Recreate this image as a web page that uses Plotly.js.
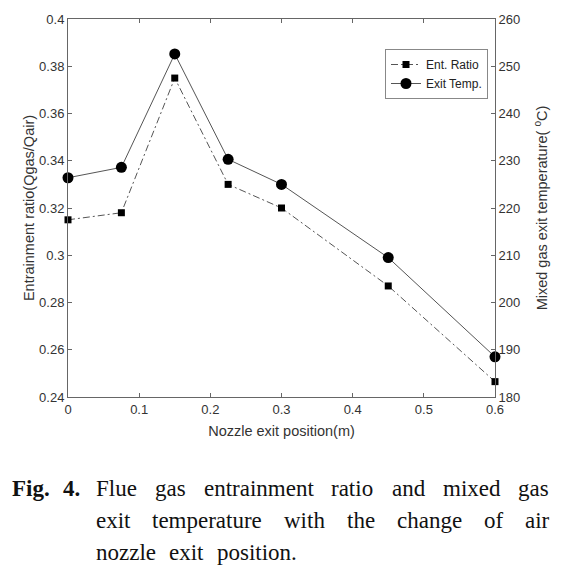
<!DOCTYPE html>
<html><head><meta charset="utf-8">
<script src="https://cdn.plot.ly/plotly-3.0.1.min.js"></script>
<style>html,body{margin:0;padding:0;background:#fff}#chart{width:567px;height:567px}</style>
</head><body><div id="chart"></div>
<script>
// ---- data ----
const positions = [0, 0.075, 0.15, 0.225, 0.3, 0.45, 0.6];
const entRatio = [0.315, 0.318, 0.375, 0.330, 0.320, 0.287, 0.2465];
const exitTemp = [226.4, 228.6, 252.6, 230.3, 225.0, 209.5, 188.5];
const xTickVals = [0, 0.1, 0.2, 0.3, 0.4, 0.5, 0.6];
const xTickText = ['0', '0.1', '0.2', '0.3', '0.4', '0.5', '0.6'];
const yTickVals = [0.24, 0.26, 0.28, 0.3, 0.32, 0.34, 0.36, 0.38, 0.4];
const yTickText = ['0.24', '0.26', '0.28', '0.3', '0.32', '0.34', '0.36', '0.38', '0.4'];
const y2TickVals = [180, 190, 200, 210, 220, 230, 240, 250, 260];
const y2TickText = ['180', '190', '200', '210', '220', '230', '240', '250', '260'];
const seriesNames = ['Ent. Ratio', 'Exit Temp.'];
const captionLabel = ['Fig.', '4.'];
const captionLines = [
  'Flue gas entrainment ratio and mixed gas',
  'exit temperature with the change of air',
  'nozzle exit position.'
];

// ---- layout helpers ----
const M = {l: 68, r: 72, t: 19, b: 170};
const W = 567, H = 567;
const PW = W - M.l - M.r, PH = H - M.t - M.b;
const px2x = p => (p - M.l) / PW;
const px2y = p => (H - M.b - p) / PH;

const capFont = "Liberation Serif, 'Times New Roman', serif";
const capSize = 23;
const cv = document.createElement('canvas').getContext('2d');
function measure(t, bold) {
  cv.font = (bold ? 'bold ' : '') + capSize + "px 'Liberation Serif'";
  return cv.measureText(t).width;
}

const annotations = [];
function addWord(t, px, py, bold) {
  annotations.push({
    text: bold ? '<b>' + t + '</b>' : t,
    xref: 'paper', yref: 'paper', x: px2x(px), y: px2y(py),
    xanchor: 'left', yanchor: 'middle', showarrow: false,
    borderpad: 0,
    font: {family: capFont, size: capSize, color: '#111'}
  });
}
const lineY = [488, 520, 552];
addWord(captionLabel[0], 11, lineY[0], true);
addWord(captionLabel[1], 62, lineY[0], true);
const leftX = 95, rightX = 548;
captionLines.forEach((ln, i) => {
  const words = ln.split(' ');
  const widths = words.map(w => measure(w));
  const total = widths.reduce((a, b) => a + b, 0);
  let gap;
  if (i < captionLines.length - 1) gap = (rightX - leftX - total) / (words.length - 1);
  else gap = 13;
  let x = leftX;
  words.forEach((w, k) => { addWord(w, x, lineY[i], false); x += widths[k] + gap; });
});

const axisFont = {family: 'Liberation Sans, Arial, sans-serif', size: 13, color: '#333'};
const titleFont = {family: 'Liberation Sans, Arial, sans-serif', size: 14.5, color: '#333'};

const traces = [
  {
    x: positions, y: entRatio, name: seriesNames[0], type: 'scatter', mode: 'lines+markers',
    line: {color: '#555', width: 1, dash: '7px,3px,2px,3px'},
    marker: {symbol: 'square', size: 7, color: '#000'},
    cliponaxis: false
  },
  {
    x: positions, y: exitTemp, name: seriesNames[1], type: 'scatter', mode: 'lines+markers',
    yaxis: 'y2',
    line: {color: '#555', width: 1},
    marker: {symbol: 'circle', size: 11, color: '#000'},
    cliponaxis: false
  }
];

const layout = {
  width: W, height: H,
  margin: M,
  paper_bgcolor: '#fff', plot_bgcolor: '#fff',
  showlegend: true,
  legend: {
    x: px2x(385), y: px2y(49), xanchor: 'left', yanchor: 'top',
    bordercolor: '#888', borderwidth: 1, bgcolor: '#fff',
    font: {family: 'Liberation Sans, Arial, sans-serif', size: 12, color: '#222'},
    tracegroupgap: 0, itemwidth: 30
  },
  xaxis: {
    range: [0, 0.6], tickvals: xTickVals, ticktext: xTickText,
    ticks: 'inside', ticklen: 4, tickcolor: '#666', showline: true, linecolor: '#666', linewidth: 1,
    mirror: 'ticks', showgrid: false, zeroline: false, tickfont: axisFont,
    title: {text: 'Nozzle exit position(m)', font: titleFont, standoff: 10}
  },
  yaxis: {
    range: [0.24, 0.4], tickvals: yTickVals, ticktext: yTickText,
    ticks: 'inside', ticklen: 4, tickcolor: '#666', showline: true, linecolor: '#666', linewidth: 1,
    showgrid: false, zeroline: false, tickfont: axisFont,
    title: {text: 'Entrainment ratio(Qgas/Qair)', font: titleFont, standoff: 1}
  },
  yaxis2: {
    overlaying: 'y', side: 'right', range: [180, 260], tickvals: y2TickVals, ticktext: y2TickText,
    ticks: 'inside', ticklen: 4, tickcolor: '#666', showline: true, linecolor: '#666', linewidth: 1,
    showgrid: false, zeroline: false, tickfont: axisFont,
    title: {text: 'Mixed gas exit temperature( <sup>o</sup>C)', font: titleFont, standoff: 17}
  },
  annotations: annotations
};

Plotly.newPlot('chart', traces, layout, {displayModeBar: false, staticPlot: true});
</script></body></html>
